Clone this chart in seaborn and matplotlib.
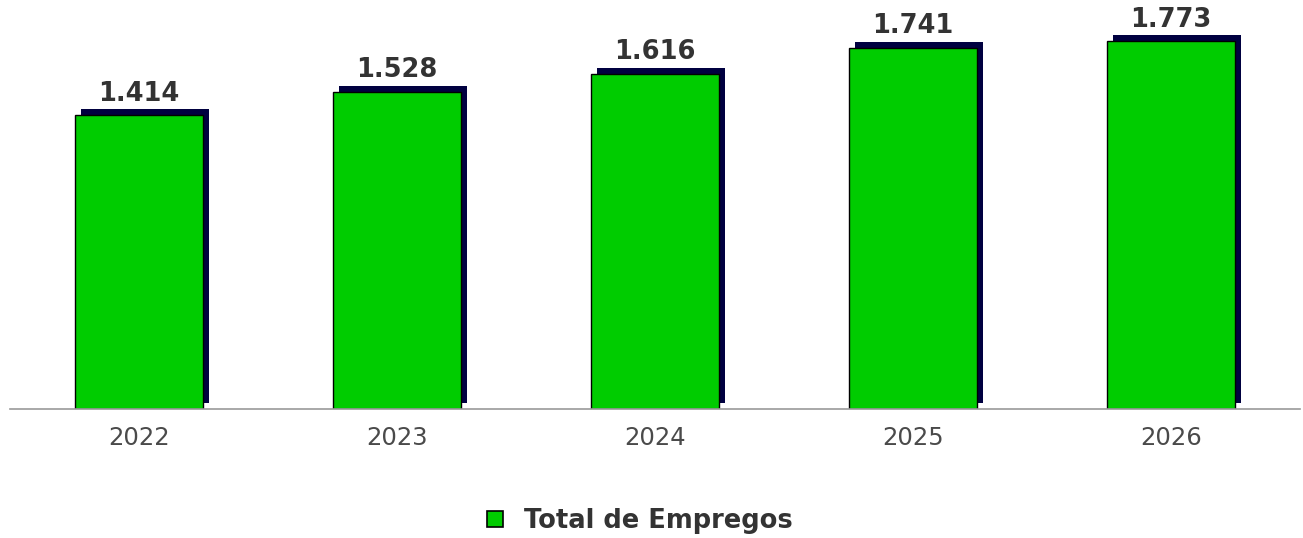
import matplotlib
matplotlib.use("Agg")
import matplotlib.pyplot as plt
import matplotlib.patheffects as pe
from matplotlib.lines import Line2D
import seaborn as sns
import pandas as pd

anos = ["2022", "2023", "2024", "2025", "2026"]
empregos = [1414, 1528, 1616, 1741, 1773]
serie = "Total de Empregos"

df = pd.DataFrame({"ano": anos, "empregos": empregos})

sns.set_theme(style="white")
plt.rcParams["font.family"] = ["DejaVu Sans"]

fig = plt.figure(figsize=(13.03, 5.38), dpi=100)
ax = fig.add_axes([10 / 1303, 1 - 409 / 538, 1290 / 1303, 399 / 538])

sns.barplot(data=df, x="ano", y="empregos", color="#00cc00", width=0.496,
            edgecolor="black", linewidth=1, saturation=1, ax=ax)

# sombra escura deslocada para cima/direita (efeito 3D)
for bar in ax.patches:
    bar.set_path_effects([
        pe.SimplePatchShadow(offset=(4.3, 4.3), shadow_rgbFace="#000040", alpha=1),
        pe.Normal(),
    ])

for i, v in enumerate(empregos):
    ax.text(i, v + 40, f"{v:,}".replace(",", "."), ha="center", va="bottom",
            fontsize=18.5, fontweight="bold", color="#333333")

ax.set_xlim(-0.5, 4.5)
ax.set_ylim(0, 1922)
ax.set_yticks([])
ax.set_xlabel("")
ax.set_ylabel("")
for s in ["top", "right", "left"]:
    ax.spines[s].set_visible(False)
ax.spines["bottom"].set_color("#999999")
ax.spines["bottom"].set_linewidth(1.2)
ax.tick_params(axis="x", length=0, pad=12, labelsize=17.5, labelcolor="#4a4a4a")

handle = Line2D([], [], marker="s", linestyle="", markersize=11.5,
                markerfacecolor="#00cc00", markeredgecolor="black", markeredgewidth=1.2)
leg = fig.legend([handle], [serie], loc="center", bbox_to_anchor=(0.489, 1 - 521 / 538),
                 frameon=False, prop={"weight": "bold", "size": 18.5},
                 handlelength=1, handletextpad=0.62)
for t in leg.get_texts():
    t.set_color("#333333")

fig.savefig("out.png", dpi=100)
